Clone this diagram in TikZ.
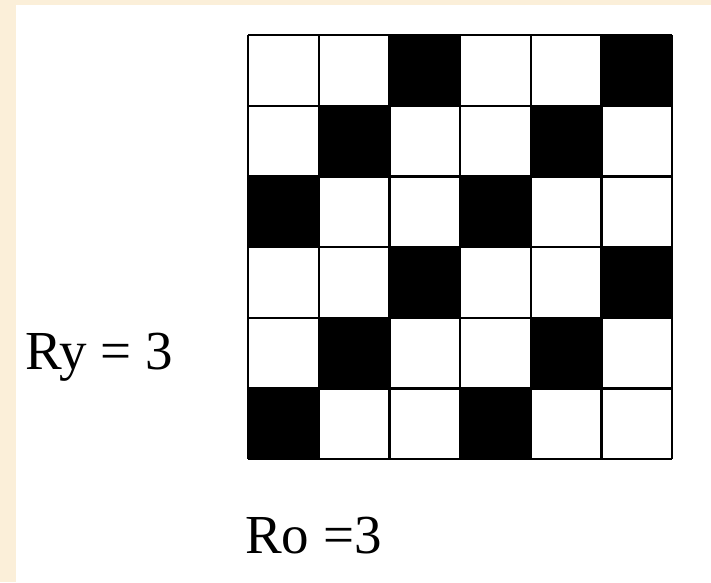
\documentclass[tikz,border=0pt]{standalone}
\usepackage{fontspec}
\setmainfont{Liberation Serif}
\usepackage{xcolor}
\usepackage{tikz}
\usetikzlibrary{positioning}
\definecolor{slidebg}{HTML}{FBEFD9}
\definecolor{ink}{HTML}{000000}
\tikzset{
  cell/.style={draw=ink,line width=2.2pt},
  dark/.style={cell,fill=ink},
  lbl/.style={font=\fontsize{55}{62}\selectfont,text=ink,inner sep=0pt},
}

\begin{document}
\begin{tikzpicture}[x=1pt,y=-1pt]
\useasboundingbox (0,0) rectangle (711,582);

% ---- slide background
\fill[slidebg] (0,0) rectangle (711,582);
\fill[white] (16,5) rectangle (711,582);

% ---- 6x6 pattern, origin top left
\def\gx{248}\def\gy{35}\def\cs{70.7}
\foreach \r in {1,...,6}{
  \foreach \c in {1,...,6}{
    \pgfmathtruncatemacro\k{mod(\r+\c,3)}
    \ifnum\k=1
      \fill[ink] ({\gx+(\c-1)*\cs},{\gy+(\r-1)*\cs}) rectangle ++(\cs,\cs);
    \fi
  }
}
\foreach \i in {0,...,6}{
  \draw[cell] ({\gx+\i*\cs},\gy) -- ({\gx+\i*\cs},{\gy+6*\cs});
  \draw[cell] (\gx,{\gy+\i*\cs}) -- ({\gx+6*\cs},{\gy+\i*\cs});
}

% ---- labels
\node[lbl,anchor=base west] (ry) at (25,369) {Ry = 3};
\node[lbl,anchor=base west] (ro) at (245,553) {Ro =3};

\end{tikzpicture}
\end{document}
